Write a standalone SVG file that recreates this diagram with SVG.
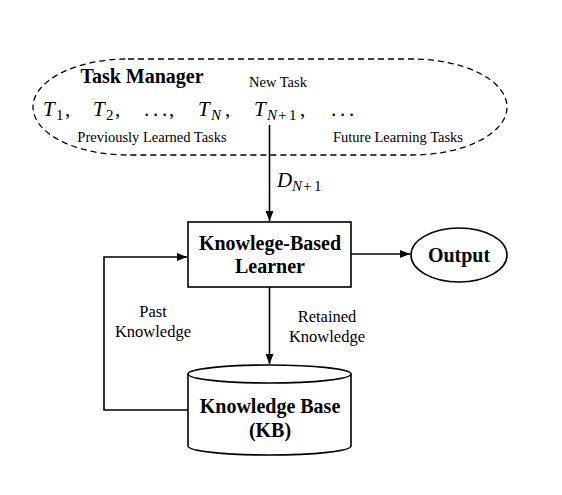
<svg xmlns="http://www.w3.org/2000/svg" width="562" height="495" viewBox="0 0 562 495">
<defs>
<marker id="arr" markerWidth="10" markerHeight="8" refX="10" refY="4" orient="auto" markerUnits="userSpaceOnUse">
<path d="M0,0 L10,4 L0,8 Z" fill="#000"/>
</marker>
<style>
.ln{fill:none;stroke:#000;stroke-width:1.6}
.nd{fill:#fff;stroke:#000;stroke-width:1.6}
.b{font-family:"Liberation Serif",serif;font-weight:bold;font-size:20px;fill:#000;text-anchor:middle}
.r{font-family:"Liberation Serif",serif;font-size:16.5px;fill:#000;text-anchor:middle}
.s{font-family:"Liberation Serif",serif;font-size:14.5px;fill:#000;text-anchor:middle}
.m{font-family:"Liberation Serif",serif;font-size:21px;fill:#000}
.mi{font-style:italic}
.sub{font-family:"Liberation Serif",serif;font-size:15px;fill:#000}
</style>
</defs>
<rect width="562" height="495" fill="#fff"/>
<g id="task-manager">
<rect x="33" y="59" width="474" height="96" rx="95" ry="48" fill="none" stroke="#000" stroke-width="1.3" stroke-dasharray="6,4"/>
<text class="b" x="142" y="83">Task Manager</text>
<text class="s" x="278" y="87">New Task</text>
<text class="m mi" x="43" y="116">T</text><text class="sub" x="56" y="120">1</text><text class="m" x="65" y="116">,</text>
<text class="m mi" x="93" y="116">T</text><text class="sub" x="106" y="120">2</text><text class="m" x="115" y="116">,</text>
<text class="m" x="144" y="116">.</text><text class="m" x="153" y="116">.</text><text class="m" x="162" y="116">.</text><text class="m" x="169" y="116">,</text>
<text class="m mi" x="198" y="116">T</text><text class="sub mi" x="211" y="120">N</text><text class="m" x="225" y="116">,</text>
<text class="m mi" x="254" y="116">T</text><text class="sub mi" x="267" y="120">N</text><text class="sub" x="278" y="120">+</text><text class="sub" x="289" y="120">1</text><text class="m" x="300" y="116">,</text>
<text class="m" x="331" y="116">.</text><text class="m" x="340" y="116">.</text><text class="m" x="349" y="116">.</text>
<text class="s" x="152" y="142">Previously Learned Tasks</text>
<text class="s" x="398" y="142">Future Learning Tasks</text>
</g>
<g id="learner">
<rect class="nd" x="188" y="222" width="163" height="65"/>
<text class="b" x="270" y="250">Knowlege-Based</text>
<text class="b" x="270" y="273">Learner</text>
</g>
<g id="output">
<ellipse class="nd" cx="459" cy="255" rx="48" ry="27"/>
<text class="b" x="459" y="262">Output</text>
</g>
<g id="kb">
<path class="nd" d="M188,374 L188,446 A81.5,9 0 0 0 351,446 L351,374"/>
<ellipse class="nd" cx="269.5" cy="374" rx="81.5" ry="9"/>
<text class="b" x="270" y="413">Knowledge Base</text>
<text class="b" x="270" y="437">(KB)</text>
</g>
<g id="connectors">
<line class="ln" x1="269.5" y1="125" x2="269.5" y2="221" marker-end="url(#arr)"/>
<text class="m mi" x="277" y="187">D</text><text class="sub mi" x="292" y="191">N</text><text class="sub" x="303" y="191">+</text><text class="sub" x="314" y="191">1</text>
<line class="ln" x1="351" y1="254" x2="410" y2="254" marker-end="url(#arr)"/>
<line class="ln" x1="269.5" y1="287" x2="269.5" y2="364" marker-end="url(#arr)"/>
<text class="r" x="327" y="322">Retained</text>
<text class="r" x="327" y="342">Knowledge</text>
<polyline class="ln" points="188,410 104,410 104,257 187,257" marker-end="url(#arr)"/>
<text class="r" x="153" y="317">Past</text>
<text class="r" x="153" y="337">Knowledge</text>
</g>
</svg>
